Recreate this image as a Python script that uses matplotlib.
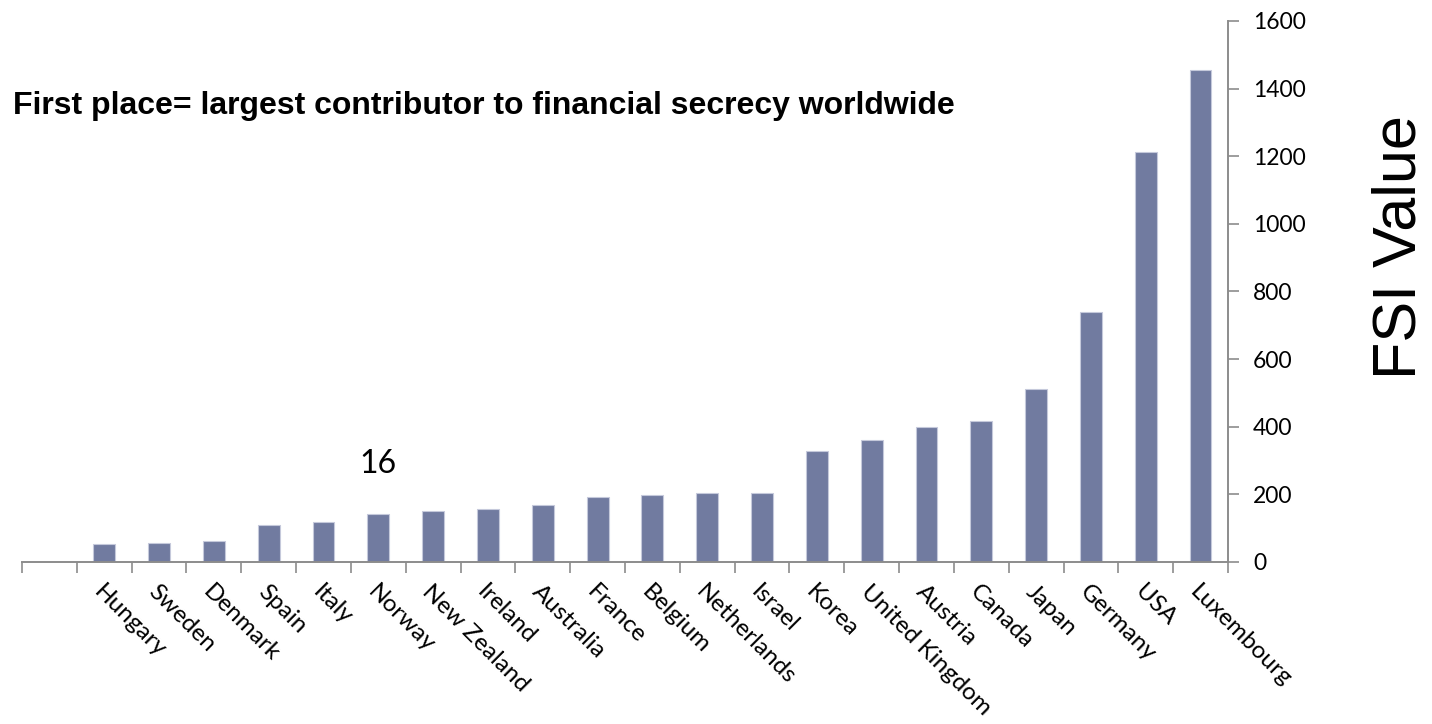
import matplotlib

matplotlib.use("Agg")
import matplotlib.pyplot as plt

countries = ["", "Hungary", "Sweden", "Denmark", "Spain", "Italy", "Norway",
             "New Zealand", "Ireland", "Australia", "France", "Belgium",
             "Netherlands", "Israel", "Korea", "United Kingdom", "Austria",
             "Canada", "Japan", "Germany", "USA", "Luxembourg"]
fsi_values = [0, 53, 55, 62, 110, 118, 142, 152, 156, 168, 191, 199,
              205, 204, 328, 361, 400, 418, 513, 740, 1213, 1456]
y_ticks = [0, 200, 400, 600, 800, 1000, 1200, 1400, 1600]

BAR = "#717ba0"
AXIS = "#8c8c8c"
TICK_FONT = "Lato"

fig = plt.figure(figsize=(14.32, 7.24), dpi=100)
ax = fig.add_axes([0.0154, 0.2238, 0.8421, 0.7472])

x = list(range(len(countries)))
ax.bar(x[1:], fsi_values[1:], width=0.4, color=BAR, edgecolor="#c5c9db", linewidth=0.8)

ax.set_xlim(-0.5, len(countries) - 0.5)
ax.set_ylim(0, 1600)

# category boundaries carry the tick marks, centres carry the labels
ax.set_xticks([i - 0.5 for i in range(len(countries) + 1)], minor=True)
ax.set_xticks(x[1:])
ax.set_xticklabels(countries[1:], rotation=-45, ha="left", va="top",
                   rotation_mode="anchor", fontsize=17.5, family=TICK_FONT)
ax.tick_params(axis="x", which="major", length=0, pad=14)
ax.tick_params(axis="x", which="minor", length=8, width=1.2, color=AXIS, direction="out")

ax.yaxis.tick_right()
ax.set_yticks(y_ticks)
ax.set_yticklabels([str(v) for v in y_ticks], fontsize=16.5, family=TICK_FONT)
ax.tick_params(axis="y", length=8, width=1.2, color=AXIS, direction="out", pad=10)

for side in ("top", "left"):
    ax.spines[side].set_visible(False)
for side in ("bottom", "right"):
    ax.spines[side].set_color(AXIS)
    ax.spines[side].set_linewidth(1.4)

ax.text(6, 290, "16", fontsize=23, family=TICK_FONT, ha="center", va="center")

fig.text(0.009, 0.853, "First place= largest contributor to financial secrecy worldwide",
         fontsize=23, fontweight="bold", family="Liberation Sans", va="center", ha="left")
fig.text(0.978, 0.659, "FSI Value", fontsize=44, family="Liberation Sans",
         rotation=90, ha="center", va="center")

fig.savefig("out.png", dpi=100)
plt.close(fig)
